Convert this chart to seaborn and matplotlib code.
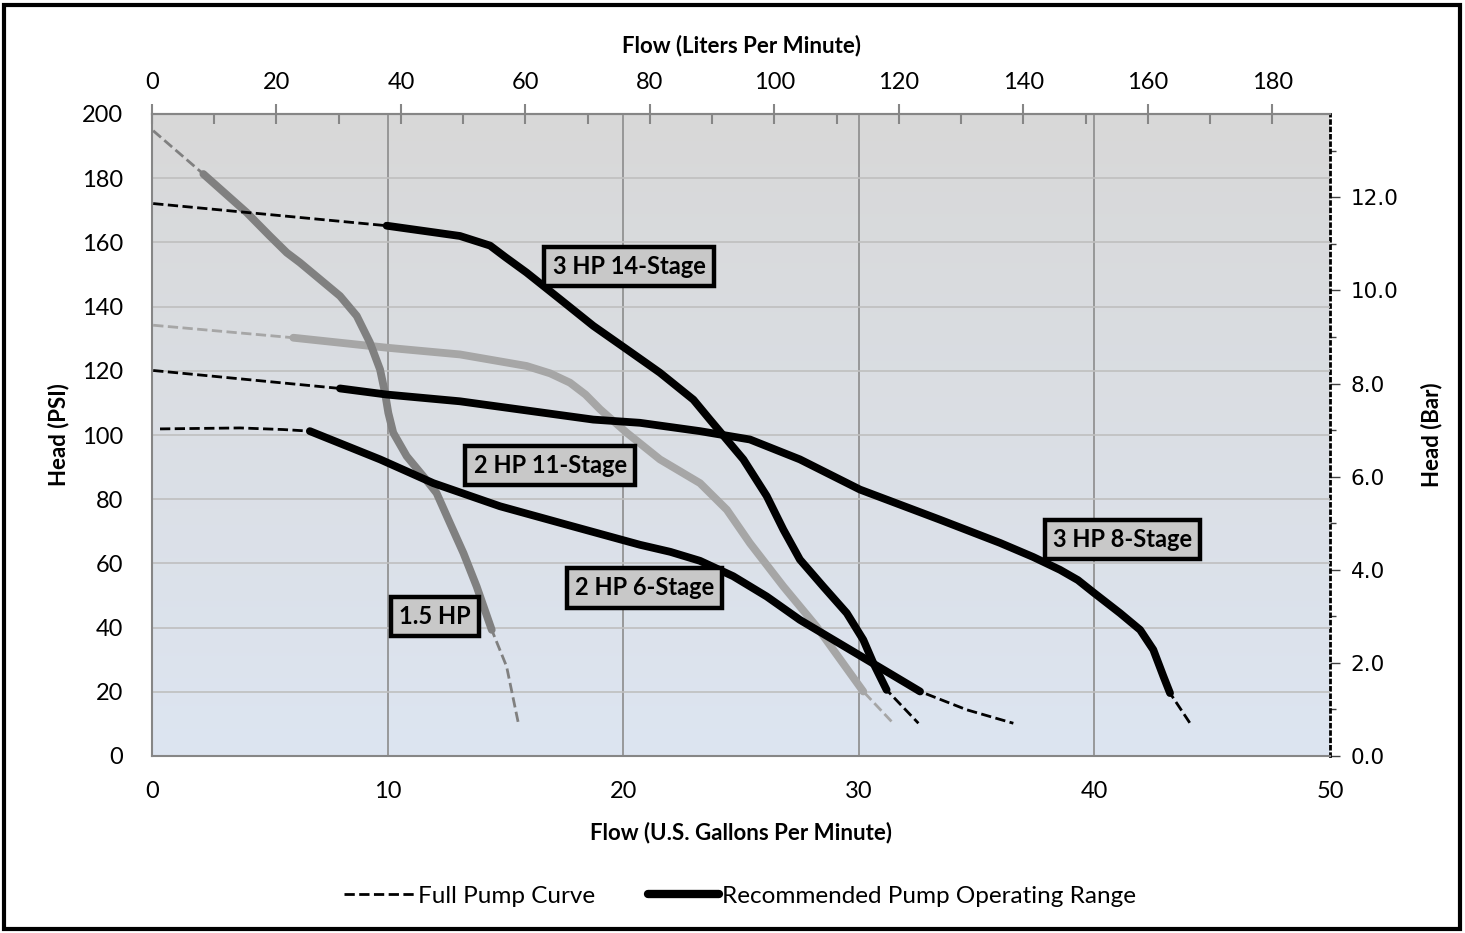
import matplotlib
matplotlib.use("Agg")
import matplotlib.pyplot as plt
from matplotlib.colors import LinearSegmentedColormap
from matplotlib.lines import Line2D
from matplotlib.patches import Rectangle
from matplotlib.ticker import MultipleLocator, FormatStrFormatter
import seaborn as sns
import numpy as np

# pump curves: flow (US gpm) and head (psi)
hp15_gpm = [0.05, 2.18, 4.02, 5.0, 5.72, 6.28, 7.13, 7.98, 8.69, 9.25, 9.68, 9.89, 10.03, 10.24, 10.81, 11.52,
            12.08, 12.65, 13.22, 13.78, 14.42, 15.05, 15.55]
hp15_psi = [194.8, 181.3, 169.3, 162.0, 156.8, 153.7, 148.5, 143.3, 137.1, 128.8, 120.4, 113.1, 106.9, 100.7, 93.4,
            87.1, 81.9, 72.5, 63.2, 52.8, 39.3, 27.9, 10.2]
hp15_range = (2.18, 14.42)

st14_gpm = [0.05, 9.96, 13.07, 14.35, 15.0, 15.9, 17.32, 18.73, 20.15, 21.56, 22.98, 23.68, 25.1, 26.09, 26.8,
            27.5, 28.49, 29.49, 30.19, 30.62, 31.18, 32.53]
st14_psi = [172.1, 165.2, 162.0, 159.0, 155.4, 150.6, 142.3, 134.0, 126.7, 119.4, 111.0, 104.8, 92.4, 81.0, 70.5,
            61.2, 52.8, 44.5, 36.2, 28.9, 20.6, 10.2]
st14_range = (9.96, 31.18)

st11_gpm = [0.05, 6.0, 9.96, 13.07, 15.9, 16.9, 17.74, 18.4, 19.02, 20.15, 21.56, 23.26, 24.4, 25.38, 26.8, 28.21,
            30.19, 31.46]
st11_psi = [134.2, 130.3, 127.2, 125.1, 121.5, 119.2, 116.3, 112.6, 108.0, 100.7, 92.4, 85.0, 76.7, 66.3, 52.8,
            40.3, 20.1, 10.2]
st11_range = (6.0, 30.19)

st8_gpm = [0.05, 7.98, 9.96, 13.07, 18.73, 20.71, 23.26, 25.38, 27.5, 30.05, 33.45, 35.99, 37.4, 38.54, 39.3,
           39.95, 41.09, 41.94, 42.5, 42.93, 43.21, 44.06]
st8_psi = [120.1, 114.5, 112.6, 110.5, 104.8, 103.8, 101.2, 98.6, 92.4, 83.0, 73.6, 66.4, 62.0, 58.0, 54.8,
           51.0, 44.5, 39.3, 33.1, 24.8, 19.6, 10.2]
st8_range = (7.98, 43.21)

st6_gpm = [0.34, 3.74, 5.57, 6.7, 9.68, 11.94, 14.77, 17.88, 20.71, 22.0, 23.26, 24.67, 26.09, 27.5, 29.63, 32.6,
           34.58, 36.56]
st6_psi = [101.9, 102.2, 101.7, 101.2, 92.4, 85.0, 77.8, 71.5, 65.8, 63.6, 60.8, 56.0, 49.7, 42.4, 33.1, 20.1,
           14.4, 10.2]
st6_range = (6.7, 32.6)

pump_labels = ["1.5 HP", "3 HP 14-Stage", "2 HP 11-Stage", "3 HP 8-Stage", "2 HP 6-Stage"]
legend_labels = ["Full Pump Curve", "Recommended Pump Operating Range"]

GAL_TO_L = 3.78541
PSI_TO_BAR = 0.0689476

sns.set_style("white")
plt.rcParams["font.family"] = ["Lato", "DejaVu Sans"]
plt.rcParams["text.color"] = "black"
plt.rcParams["axes.labelcolor"] = "black"
plt.rcParams["xtick.labelcolor"] = "black"
plt.rcParams["ytick.labelcolor"] = "black"

fig = plt.figure(figsize=(14.65, 9.33), dpi=100)
ax = fig.add_axes([152 / 1465, 1 - 756 / 933, 1178 / 1465, 642 / 933])
ax.set_xlim(0, 50)
ax.set_ylim(0, 200)

# background gradient grey -> pale blue
grad_cmap = LinearSegmentedColormap.from_list("bg", ["#dde5f1", "#d8d8d8"])
ax.imshow(np.linspace(0, 1, 256).reshape(-1, 1), extent=[0, 50, 0, 200], origin="lower",
          aspect="auto", cmap=grad_cmap, zorder=0)

for g in [10, 20, 30, 40]:
    ax.axvline(g, color="#8c8c8c", lw=1.2, zorder=1)
for p in range(20, 200, 20):
    ax.axhline(p, color="#bfbfbf", lw=1.2, zorder=1)


def draw_pump(gpm, psi, op, color, z):
    gpm = np.asarray(gpm)
    psi = np.asarray(psi)
    sns.lineplot(x=gpm, y=psi, ax=ax, color=color, lw=2.0, linestyle="--",
                 estimator=None, sort=False, zorder=z)
    keep = (gpm >= op[0]) & (gpm <= op[1])
    sns.lineplot(x=gpm[keep], y=psi[keep], ax=ax, color=color, lw=5.6,
                 estimator=None, sort=False, zorder=z + 0.5,
                 solid_capstyle="round", solid_joinstyle="round")


draw_pump(st11_gpm, st11_psi, st11_range, "#a6a6a6", 2)
draw_pump(hp15_gpm, hp15_psi, hp15_range, "#808080", 3)
draw_pump(st6_gpm, st6_psi, st6_range, "black", 4)
draw_pump(st8_gpm, st8_psi, st8_range, "black", 5)
draw_pump(st14_gpm, st14_psi, st14_range, "black", 6)

label_pos = [(12.0, 43.4), (20.25, 152.5), (16.9, 90.5), (41.2, 67.4), (20.9, 52.4)]
for txt, (gx, py) in zip(pump_labels, label_pos):
    ax.text(gx, py, txt, ha="center", va="center", fontsize=17, fontweight="bold", zorder=10,
            bbox=dict(boxstyle="square,pad=0.35", facecolor="#c8c8c8", edgecolor="black", lw=3.2))

axis_grey = "#868686"
for side in ["left", "bottom", "top"]:
    ax.spines[side].set_color(axis_grey)
    ax.spines[side].set_linewidth(1.5)
ax.spines["right"].set_visible(False)

ax.xaxis.set_major_locator(MultipleLocator(10))
ax.xaxis.set_minor_locator(MultipleLocator(2))
ax.yaxis.set_major_locator(MultipleLocator(20))
ax.yaxis.set_minor_locator(MultipleLocator(5))
ax.tick_params(which="major", direction="inout", length=14, width=1.5, color=axis_grey, labelsize=17)
ax.tick_params(which="minor", direction="in", length=7, width=1.5, color=axis_grey)
ax.tick_params(axis="y", which="both", right=False)
ax.tick_params(axis="y", which="major", pad=14)
ax.tick_params(axis="x", which="both", top=False)
ax.tick_params(axis="x", which="major", pad=11)
ax.set_xlabel("Flow (U.S. Gallons Per Minute)", fontsize=16, fontweight="bold", labelpad=14)
ax.set_ylabel("Head (PSI)", fontsize=16, fontweight="bold", labelpad=9)

top = ax.secondary_xaxis("top", functions=(lambda g: g * GAL_TO_L, lambda l: l / GAL_TO_L))
top.xaxis.set_major_locator(MultipleLocator(20))
top.xaxis.set_minor_locator(MultipleLocator(10))
top.tick_params(which="major", direction="inout", length=14, width=1.5, color=axis_grey,
                labelsize=17, pad=8)
top.tick_params(which="minor", direction="in", length=7, width=1.5, color=axis_grey)
top.spines["top"].set_color(axis_grey)
top.spines["top"].set_linewidth(1.5)
top.set_xlabel("Flow (Liters Per Minute)", fontsize=16, fontweight="bold", labelpad=14)

right = ax.secondary_yaxis("right", functions=(lambda p: p * PSI_TO_BAR, lambda b: b / PSI_TO_BAR))
right.yaxis.set_major_locator(MultipleLocator(2))
right.yaxis.set_minor_locator(MultipleLocator(1))
right.yaxis.set_major_formatter(FormatStrFormatter("%.1f"))
right.tick_params(which="major", direction="out", length=7, width=1, color="#404040", pad=8)
right.tick_params(which="minor", direction="out", length=4, width=1, color="#404040")
for t in right.get_yticklabels():
    t.set_fontfamily("DejaVu Sans")
    t.set_fontsize(15.5)
right.spines["right"].set_linestyle(":")
right.spines["right"].set_color("black")
right.spines["right"].set_linewidth(2)
right.set_ylabel("Head (Bar)", fontsize=16, fontweight="bold", labelpad=16)

handles = [Line2D([], [], color="black", lw=2.0, linestyle="--"),
           Line2D([], [], color="black", lw=6, solid_capstyle="round")]
fig.legend(handles, legend_labels, loc="center", bbox_to_anchor=(740 / 1465, 1 - 896 / 933),
           ncol=2, frameon=False, fontsize=17.5, handlelength=2.9, handletextpad=0.15,
           columnspacing=2.2)

fig.patches.append(Rectangle((4 / 1465, 4 / 933), 1 - 9 / 1465, 1 - 9 / 933, transform=fig.transFigure,
                             fill=False, edgecolor="black", lw=3))

fig.savefig("out.png", dpi=100)
